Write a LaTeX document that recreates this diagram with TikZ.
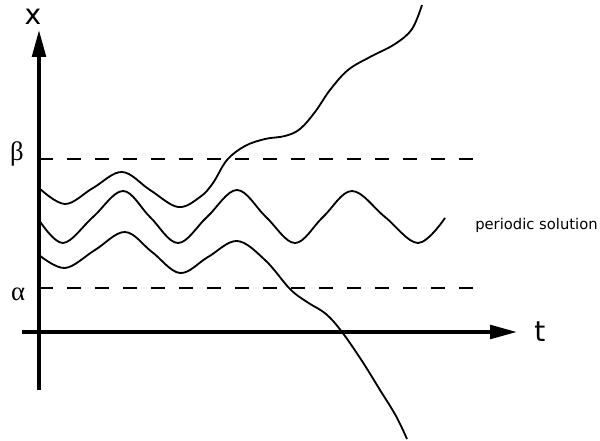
\documentclass[tikz,border=0pt]{standalone}
\usepackage{fontspec}
\setsansfont{DejaVu Sans}
\newfontfamily\greekfont{Liberation Serif}
\usetikzlibrary{arrows.meta}

\begin{document}
\begin{tikzpicture}[x=0.25mm,y=-0.25mm,
  axis/.style={line width=2.6pt,-{Triangle[length=6.75mm,width=3.4mm]}},
  level/.style={line width=1.7pt,dash pattern=on 3.5mm off 3.5mm},
  orbit/.style={line width=1.3pt,line join=round},
  lab/.style={inner sep=0pt,font=\sffamily\fontsize{20}{24}\selectfont},
  glab/.style={inner sep=0pt,font=\greekfont\fontsize{19}{22}\selectfont}]
\useasboundingbox (0,0) rectangle (600,441);
% axes
\coordinate (xbot) at (39,390);
\coordinate (xtop) at (39,30);
\coordinate (tleft) at (22,332);
\coordinate (tright) at (517,332);
\draw[axis] (xbot)--(xtop);
\draw[axis] (tleft)--(tright);
\node[lab] (xlab) at (33,17) {x};
\node[lab] (tlab) at (540,332) {t};
% bounds alpha, beta
\coordinate (b0) at (39,159);
\coordinate (b1) at (475,159);
\coordinate (a0) at (39,288);
\coordinate (a1) at (475,288);
\draw[level] (b0)--(b1);
\draw[level] (a0)--(a1);
\node[glab] (blab) at (17,154) {β};
\node[glab] (alab) at (18,294) {α};
% solutions
\draw[orbit] plot[smooth,tension=0.6] coordinates {(39,188) (65,204) (93,188) (122,172) (150,190) (178,207) (200,197) (213,183) (227,160) (245,146) (265,139) (285,136) (300,129) (315,112) (330,90) (348,70) (370,57) (395,44) (412,29) (422,5)};
\draw[orbit] plot[smooth,tension=0.6] coordinates {(39,220) (63,243) (93,217) (123,191) (150,217) (178,243) (207,217) (237,190) (266,217) (295,243) (323,217) (352,191) (385,217) (418,243) (445,218)};
\draw[orbit] plot[smooth,tension=0.6] coordinates {(39,255) (65,268) (95,250) (125,232) (152,252) (180,273) (208,257) (237,241) (265,260) (290,289) (307,302) (326,314) (342,332) (362,361) (380,390) (396,416) (407,439)};
\node[font=\sffamily\fontsize{10.5}{13}\selectfont,inner sep=0pt,anchor=base west] (plab) at (475,230) {periodic solution};
\end{tikzpicture}
\end{document}
